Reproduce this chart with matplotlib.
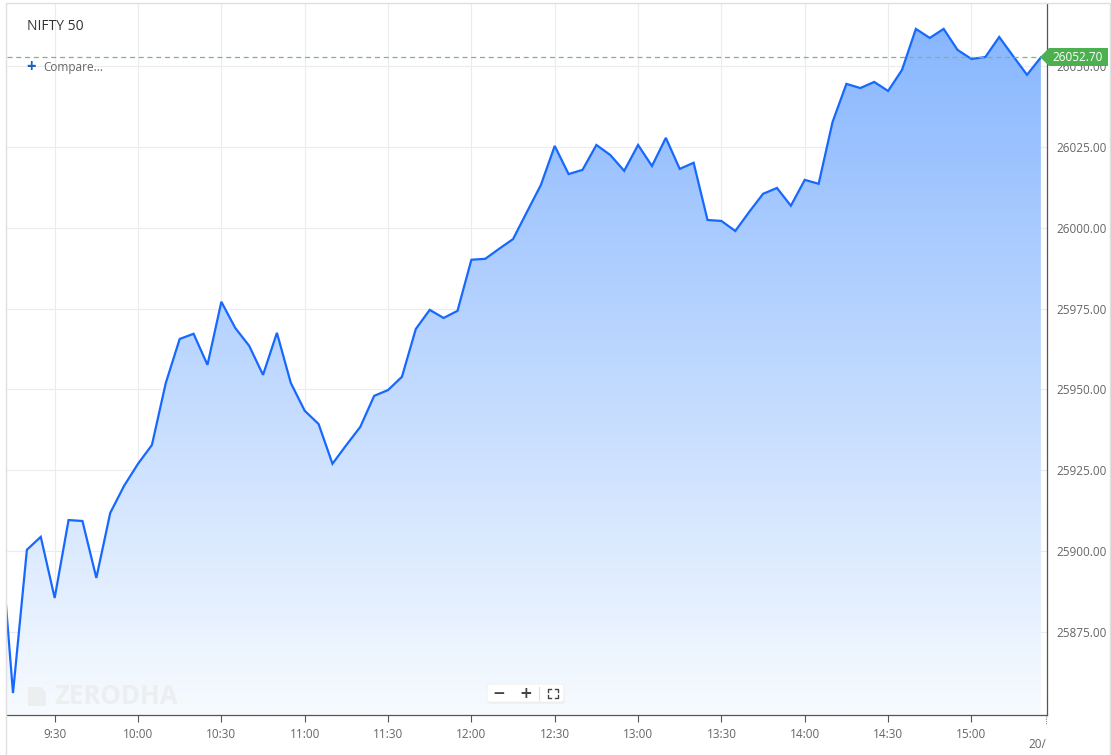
import numpy as np
import matplotlib
matplotlib.use("Agg")
import matplotlib.pyplot as plt
from matplotlib.patches import Polygon, FancyBboxPatch
from matplotlib.colors import LinearSegmentedColormap

plt.rcParams['font.family'] = ['Open Sans', 'DejaVu Sans']

# ---- data: NIFTY 50 intraday, 5-minute closes (first point = previous close) ----
start_min = 9 * 60 + 10
step_min = 5
prices = [
    25910.0,
    25856.1, 25900.4, 25904.4, 25885.5, 25909.6, 25909.3, 25891.7, 25911.8,
    25920.2, 25927.0, 25932.8, 25952.0, 25965.6, 25967.2, 25957.6, 25977.1,
    25969.0, 25963.5, 25954.5, 25967.5, 25952.0, 25943.4, 25939.3, 25927.0,
    25932.8, 25938.4, 25948.0, 25949.8, 25953.9, 25968.7, 25974.6, 25972.1,
    25974.3, 25990.1, 25990.4, 25993.5, 25996.5, 26004.9, 26013.2, 26025.3,
    26016.6, 26017.9, 26025.6, 26022.5, 26017.6, 26025.6, 26019.1, 26027.8,
    26018.2, 26020.1, 26002.4, 26002.1, 25999.0, 26004.9, 26010.5, 26012.3,
    26006.8, 26014.8, 26013.6, 26032.7, 26044.5, 26043.2, 26045.1, 26042.3,
    26048.8, 26061.5, 26058.7, 26061.5, 26055.0, 26052.2, 26052.8, 26059.0,
    26053.1, 26047.3, 26052.7,
]
last_price = 26052.70
times = start_min + step_min * np.arange(len(prices))
y_ticks = [25875, 25900, 25925, 25950, 25975, 26000, 26025, 26050]
x_ticks = [9 * 60 + 30 + 30 * i for i in range(12)]
x_labels = [f"{t // 60}:{t % 60:02d}" for t in x_ticks]

W, H = 1111, 755
fig = plt.figure(figsize=(W / 100, H / 100), dpi=100)
fig.patch.set_facecolor("white")

# plot area in pixels
L, R, T, B = 7, 1047, 4, 715
ax = fig.add_axes([L / W, 1 - B / H, (R - L) / W, (B - T) / H])
xmin, xmax = 9 * 60 + 12.84, 15 * 60 + 27.2
ymin, ymax = 25849.3, 26069.2
ax.set_xlim(xmin, xmax)
ax.set_ylim(ymin, ymax)

# gradient area fill
verts = list(zip(times, prices)) + [(times[-1], ymin), (times[0], ymin)]
clip = Polygon(verts, closed=True, facecolor="none", edgecolor="none")
ax.add_patch(clip)
cmap = LinearSegmentedColormap.from_list("fill", ["#f7fbff", "#84b4fe"])
grad = np.linspace(0, 1, 256).reshape(-1, 1)
im = ax.imshow(grad, cmap=cmap, aspect="auto", origin="lower",
               extent=[xmin, xmax, ymin, ymax], zorder=1)
im.set_clip_path(clip)

ax.plot(times, prices, color="#1668ff", lw=1.6, zorder=3, solid_joinstyle="miter")
ax.axhline(last_price, color="#7fb57f", lw=0.9, ls=(0, (4, 3)), zorder=4)

ax.set_yticks(y_ticks)
ax.set_yticklabels([f"{v:.2f}" for v in y_ticks])
ax.set_xticks(x_ticks)
ax.set_xticklabels(x_labels)
ax.grid(True, color="#ececec", lw=0.8, zorder=0)
ax.set_axisbelow(True)
ax.yaxis.tick_right()
ax.tick_params(axis="y", length=0, pad=7, labelsize=8.5, labelcolor="#666666")
ax.tick_params(axis="x", length=5, width=0.8, color="#555555", pad=4,
               labelsize=8.5, labelcolor="#666666")
for s in ("top", "left"):
    ax.spines[s].set_visible(False)
for s in ("right", "bottom"):
    ax.spines[s].set_color("#555555")
    ax.spines[s].set_linewidth(0.9)

# overlay in pixel coordinates
ov = fig.add_axes([0, 0, 1, 1], zorder=10)
ov.set_xlim(0, W)
ov.set_ylim(H, 0)
ov.axis("off")
ov.patch.set_alpha(0)

# outer frame
ov.plot([6, 6, 1110, 1110], [755, 3, 3, 755], color="#e0e0e0", lw=1)

ov.text(27, 26, "NIFTY 50", fontsize=10, color="#333333", va="center")
ov.text(26, 67, "+", fontsize=12, color="#1565c0", va="center", fontweight="bold")
ov.text(43, 67, "Compare...", fontsize=8.5, color="#666666", va="center")

# watermark
ov.add_patch(Polygon([(28, 687), (41, 687), (46, 693), (46, 706), (28, 706)],
                     closed=True, facecolor="#eceef0", edgecolor="none"))
ov.text(54, 697, "ZERODHA", fontsize=18.5, color="#eceef0", va="center",
        fontweight="bold")

# zoom controls
ov.add_patch(FancyBboxPatch((488, 686), 77, 18, boxstyle="round,pad=0,rounding_size=3",
                            facecolor="#f0f0f0", edgecolor="none"))
ov.add_patch(FancyBboxPatch((487, 684), 77, 18, boxstyle="round,pad=0,rounding_size=3",
                            facecolor="white", edgecolor="#eeeeee", lw=0.6))
ov.text(499, 693, "−", fontsize=11, color="#444444", ha="center", va="center",
        fontweight="bold", family="DejaVu Sans")
ov.text(526, 693, "+", fontsize=11, color="#444444", ha="center", va="center",
        fontweight="bold", family="DejaVu Sans")
ov.plot([539, 539], [687, 700], color="#e0e0e0", lw=0.8)
for cx, cy, dx, dy in [(548, 689, 1, 1), (558, 689, -1, 1), (548, 698, 1, -1), (558, 698, -1, -1)]:
    ov.plot([cx + 3 * dx, cx, cx], [cy, cy, cy + 3 * dy], color="#444444", lw=1)

# date marker on right edge
ov.plot([1046, 1046], [716, 724], color="#888888", lw=0.8, ls=(0, (1, 1)))
ov.text(1046, 745, "20/", fontsize=8.5, color="#666666", ha="right", va="center")

# last-price tag
ov.add_patch(Polygon([(1040, 57), (1049, 48), (1108, 48), (1108, 66), (1049, 66)],
                     closed=True, facecolor="#4caf50", edgecolor="none"))
ov.text(1078, 57.5, f"{last_price:.2f}", fontsize=8.5, color="white",
        ha="center", va="center")

fig.savefig("out.png", dpi=100)
